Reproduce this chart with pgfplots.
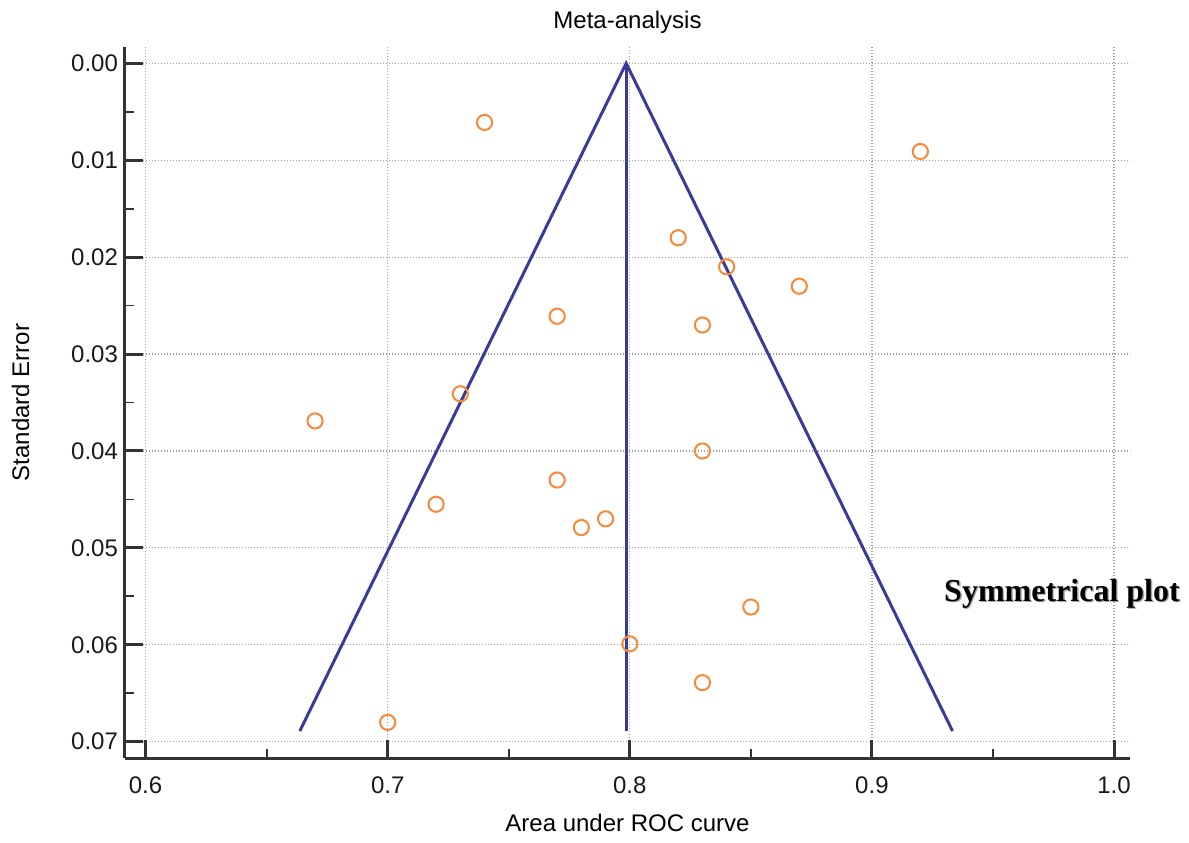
\documentclass[border=0pt]{standalone}
\usepackage{fontspec}
\setmainfont{Liberation Sans}
\newfontfamily\timesfont{Liberation Serif}
\usepackage{pgfplots}
\usepackage{pgfplotstable}
\pgfplotsset{compat=1.18}
\definecolor{funnelc}{RGB}{58,58,152}
\definecolor{ptc}{RGB}{247,137,57}
\definecolor{axl}{RGB}{51,51,51}
\definecolor{gridc}{RGB}{160,160,160}
\pgfplotstableread{
x y
0.74 0.0061
0.92 0.0091
0.82 0.0180
0.84 0.0210
0.87 0.0230
0.77 0.0261
0.83 0.0270
0.73 0.0341
0.67 0.0369
0.83 0.0400
0.77 0.0430
0.72 0.0455
0.78 0.0479
0.79 0.0470
0.85 0.0561
0.80 0.0599
0.83 0.0639
0.70 0.0680
}\studies
\pgfplotstableread{
x y
0.6637 0.0689
0.7985 0
0.9333 0.0689
}\funneltab
\begin{document}
\begin{tikzpicture}
\begin{axis}[
  scale only axis, width=502.5pt, height=355.5pt,
  xmin=0.5915, xmax=1.0066, ymin=-0.00168, ymax=0.07168,
  y dir=reverse,
  clip=false,
  scaled y ticks=false, scaled x ticks=false,
  axis x line*=bottom, axis y line*=left,
  axis line style={axl, line width=1.5pt},
  xtick={0.6,0.7,0.8,0.9,1.0},
  xticklabels={0.6,0.7,0.8,0.9,1.0},
  ytick={0,0.01,0.02,0.03,0.04,0.05,0.06,0.07},
  yticklabels={0.00,0.01,0.02,0.03,0.04,0.05,0.06,0.07},
  minor x tick num=1, minor y tick num=1,
  tick align=inside,
  major tick length=9pt, minor tick length=4.5pt,
  major tick style={axl, line width=1.5pt},
  minor tick style={axl, line width=0.9pt},
  grid=major,
  major grid style={gridc, line width=0.6pt, dash pattern=on 0.6pt off 0.9pt},
  tick label style={font=\fontsize{12}{14.4}\selectfont, text=black!90},
  xticklabel style={anchor=base, yshift=-17.5pt},
  every axis title shift=0pt,
  title={Meta-analysis},
  title style={at={(axis description cs:0.5,1)}, anchor=base, yshift=9.5pt, font=\fontsize{12}{14.4}\selectfont},
  xlabel={Area under ROC curve},
  xlabel style={at={(axis description cs:0.5,0)}, anchor=base, yshift=-36.5pt, font=\fontsize{12}{14.4}\selectfont},
  ylabel={Standard Error},
  ylabel style={at={(axis description cs:-0.0955,0.5)}, anchor=base, font=\fontsize{12}{14.4}\selectfont},
]
\addplot[funnelc, line width=1.5pt, no marks] table {\funneltab};
\addplot[funnelc, line width=1.5pt, no marks] coordinates {(0.7985,0) (0.7985,0.0689)};
\addplot[only marks, mark=o, mark size=3.8pt, mark options={ptc, line width=1pt}] table {\studies};
\node[anchor=west, inner sep=0pt, text=black!35, font=\timesfont\bfseries\fontsize{16}{19}\selectfont] at ([xshift=0.7pt,yshift=-0.7pt]axis cs:0.9297,0.0547) {Symmetrical plot};
\node[anchor=west, inner sep=0pt, text=black, font=\timesfont\bfseries\fontsize{16}{19}\selectfont] at (axis cs:0.9297,0.0547) {Symmetrical plot};
\coordinate (ll) at (axis description cs:0,0);
\end{axis}
\path (ll) ++(-62.5pt,-42pt) rectangle ++(594.5pt,421pt);
\end{tikzpicture}
\end{document}
